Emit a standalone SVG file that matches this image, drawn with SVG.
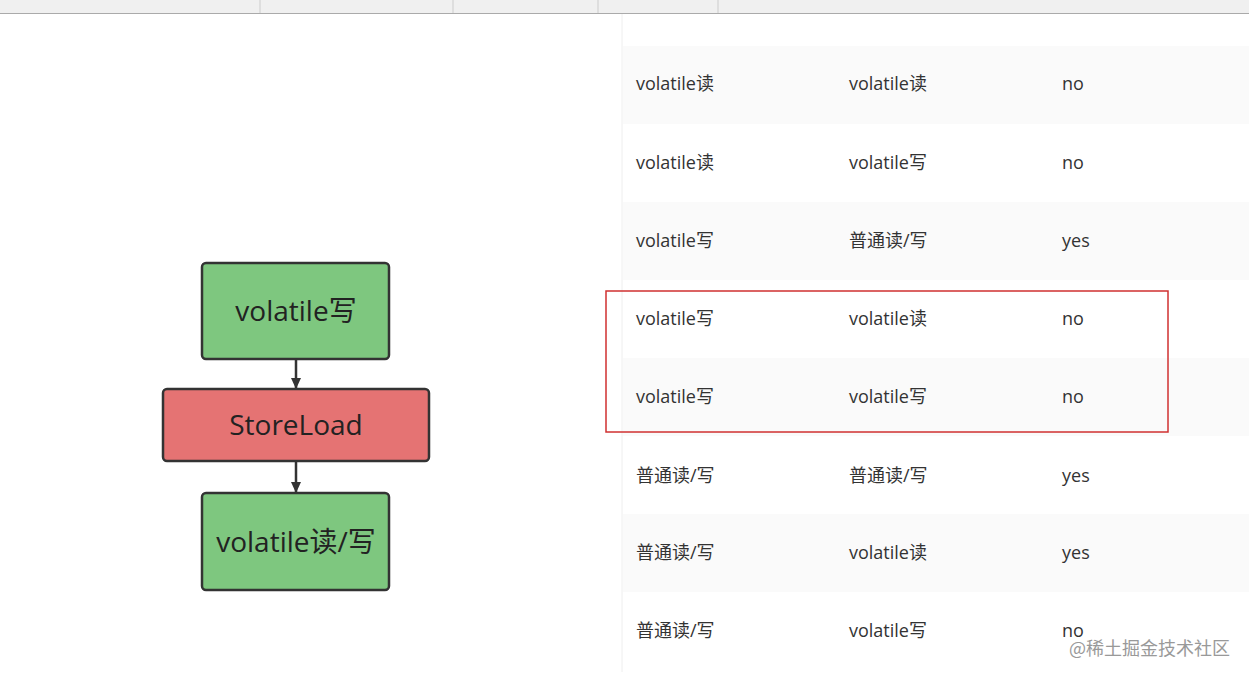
<svg xmlns="http://www.w3.org/2000/svg" width="1249" height="678" viewBox="0 0 1249 678">
<style>
.n{stroke:#333;stroke-width:2.5}
.g{fill:#7ec77f}
.r{fill:#e57373}
.t{font-family:"Open Sans","Noto Sans CJK SC",sans-serif;font-size:28px;fill:#222;text-anchor:middle}
.c{font-family:"Open Sans","Noto Sans CJK SC",sans-serif;font-size:18px;fill:#333}
</style>
<defs><marker id="a" markerWidth="11" markerHeight="10" refX="10" refY="5" orient="auto" markerUnits="userSpaceOnUse" viewBox="0 0 11 10"><path d="M0,0 L11,5 L0,10 Z" fill="#333"/></marker></defs>
<rect width="1249" height="678" fill="#fff"/>
<rect width="1249" height="13" fill="#f0f0f0"/>
<line x1="0" y1="13.5" x2="1249" y2="13.5" stroke="#aaa"/>
<g stroke="#ccc"><line x1="260" y1="0" x2="260" y2="13"/><line x1="453" y1="0" x2="453" y2="13"/><line x1="598" y1="0" x2="598" y2="13"/><line x1="718" y1="0" x2="718" y2="13"/></g>
<line x1="622" y1="14" x2="622" y2="672" stroke="#eee"/>
<g id="table">
<rect x="623" y="46" width="626" height="78" fill="#fafafa"/>
<rect x="623" y="202" width="626" height="78" fill="#fafafa"/>
<rect x="623" y="358" width="626" height="78" fill="#fafafa"/>
<rect x="623" y="514" width="626" height="78" fill="#fafafa"/>
<g class="c">
<text x="636" y="90">volatile读</text><text x="849" y="90">volatile读</text><text x="1062" y="90">no</text>
<text x="636" y="169">volatile读</text><text x="849" y="169">volatile写</text><text x="1062" y="169">no</text>
<text x="636" y="247">volatile写</text><text x="849" y="247">普通读/写</text><text x="1062" y="247">yes</text>
<text x="636" y="325">volatile写</text><text x="849" y="325">volatile读</text><text x="1062" y="325">no</text>
<text x="636" y="403">volatile写</text><text x="849" y="403">volatile写</text><text x="1062" y="403">no</text>
<text x="636" y="482">普通读/写</text><text x="849" y="482">普通读/写</text><text x="1062" y="482">yes</text>
<text x="636" y="559">普通读/写</text><text x="849" y="559">volatile读</text><text x="1062" y="559">yes</text>
<text x="636" y="637">普通读/写</text><text x="849" y="637">volatile写</text><text x="1062" y="637">no</text>
</g>
<rect x="606" y="291" width="562" height="141" fill="none" stroke="#d03030" stroke-width="1.5"/>
</g>
<g id="connectors" stroke="#333" stroke-width="2.5">
<line x1="296" y1="360" x2="296" y2="388" marker-end="url(#a)"/>
<line x1="296" y1="462" x2="296" y2="492" marker-end="url(#a)"/>
</g>
<g id="n1"><rect class="n g" x="202" y="263" width="187" height="96" rx="4"/><text class="t" x="296" y="321">volatile写</text></g>
<g id="n2"><rect class="n r" x="163" y="389" width="266" height="72" rx="4"/><text class="t" x="296" y="435">StoreLoad</text></g>
<g id="n3"><rect class="n g" x="202" y="493" width="187" height="97" rx="4"/><text class="t" x="296" y="552">volatile读/写</text></g>
<text x="1069" y="655" font-family="Noto Sans CJK SC,sans-serif" font-size="18" fill="#999">@稀土掘金技术社区</text>
</svg>
